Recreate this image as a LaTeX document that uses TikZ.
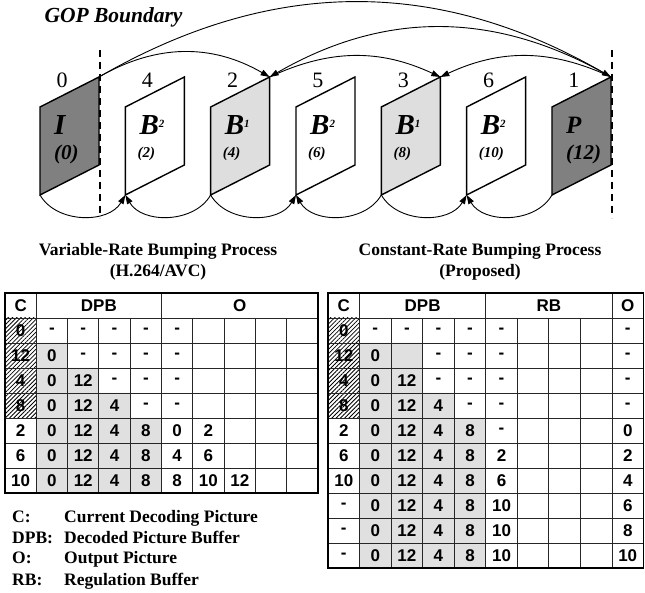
\documentclass[tikz,border=0pt]{standalone}
\usepackage{fontspec}
\setmainfont{Liberation Serif}
\setsansfont{Liberation Sans}
\usetikzlibrary{arrows.meta,patterns.meta,positioning}

\colorlet{ipfill}{black!50}
\colorlet{bfill}{black!13}
\colorlet{dpbfill}{black!12}
\newcommand{\lvl}[1]{\raisebox{7pt}{\fontsize{11}{11}\selectfont #1}}

\begin{document}
\begin{tikzpicture}[x=1pt, y=1pt,
  frame/.style={draw, line width=1.4pt},
  ref/.style={-{Triangle[length=9pt,width=6pt]}, line width=0.9pt},
  gop/.style={line width=2pt, dash pattern=on 7pt off 5pt},
  ord/.style={font=\fontsize{22}{22}\selectfont, inner sep=0pt},
  pic/.style={font=\bfseries\itshape\fontsize{29}{29}\selectfont, inner sep=0pt, anchor=west},
  pocS/.style={font=\bfseries\itshape\fontsize{15}{15}\selectfont, inner sep=0pt, anchor=west},
  pocL/.style={font=\bfseries\itshape\fontsize{21}{21}\selectfont, inner sep=0pt, anchor=west, xshift=2pt},
  grid/.style={line width=0.9pt, black!85},
  hatch/.style={pattern={Lines[angle=45, distance=3pt, line width=0.8pt]}},
  cell/.style={font=\sffamily\bfseries\fontsize{17}{17}\selectfont, inner sep=0pt},
  ttl/.style={font=\bfseries\fontsize{17.5}{21}\selectfont, align=center},
  key/.style={font=\bfseries\fontsize{17.5}{17.5}\selectfont, inner sep=0pt, anchor=base west}]
\useasboundingbox (0,0) rectangle (645,593);

% pictures of the GOP
\foreach \i/\fc/\ltr/\poc/\ps/\ord in {0/ipfill/I/0/pocL/0, 1/white/{B\lvl{2}}/2/pocS/4,
    2/bfill/{B\lvl{1}}/4/pocS/2, 3/white/{B\lvl{2}}/6/pocS/5, 4/bfill/{B\lvl{1}}/8/pocS/3,
    5/white/{B\lvl{2}}/10/pocS/6, 6/ipfill/{\fontsize{25}{25}\selectfont P}/12/pocL/1} {
  \pgfmathsetmacro\L{40+85.33*\i}
  \coordinate (f\i-bl) at (\L, 398);
  \coordinate (f\i-tr) at (\L+59, 516);
  \filldraw[frame, fill=\fc] (f\i-bl) -- ++(0,88) -- (f\i-tr) -- ++(0,-88) -- cycle;
  \node[pic] (p\i) at (\L+14, 468) {\ltr};
  \node[\ps] (n\i) at (\L+12, 439) {(\poc)};
  \node[ord] (o\i) at (\L+22, 513) {\ord};
}

% references
\draw[ref] (f0-tr) to[out=30, in=150] (f2-tr);
\draw[ref] (f0-tr) to[out=30, in=150] (f6-tr);
\draw[ref] (f6-tr) to[out=150, in=30] (f2-tr);
\draw[ref] (f2-tr) to[out=25, in=155] (f4-tr);
\draw[ref] (f6-tr) to[out=155, in=25] (f4-tr);
\foreach \a/\b in {0/1, 2/3, 4/5} \draw[ref] (f\a-bl) to[out=-60, in=-120] (f\b-bl);
\foreach \a/\b in {2/1, 4/3, 6/5} \draw[ref] (f\a-bl) to[out=-120, in=-60] (f\b-bl);

% GOP boundary
\draw[gop] ([shift={(1,27)}]f0-tr) -- ([shift={(1,-141)}]f0-tr);
\draw[gop] ([shift={(1,27)}]f6-tr) -- ([shift={(1,-141)}]f6-tr);
\node[anchor=west, font=\bfseries\itshape\fontsize{21.5}{21.5}\selectfont] (gop) at (41,576) {GOP Boundary};

\node[ttl] (ttl-var) at (158,331) {Variable-Rate Bumping Process\\(H.264/AVC)};
\node[ttl] (ttl-con) at (480,331) {Constant-Rate Bumping Process\\(Proposed)};

% H.264/AVC table
\begin{scope}[shift={(5pt,300pt)}, x=31.3pt, y=-25pt]
  \fill[dpbfill] (1,2) rectangle (2,3) (1,3) rectangle (3,4) (1,4) rectangle (4,5) (1,5) rectangle (5,8);
  \fill[hatch] (0,1) rectangle (1,5);
  \foreach \r in {1,...,7} \draw[grid] (0,\r) -- (10,\r);
  \foreach \c in {1,5} \draw[grid] (\c,0) -- (\c,8);
  \foreach \c in {2,3,4,6,7,8,9} \draw[grid] (\c,1) -- (\c,8);
  \draw[line width=1.6pt] (0,0) rectangle (10,8);
  \node[cell] (L-c) at (0.5,0.5) {C};
  \node[cell] (L-dpb) at (3,0.5) {DPB};
  \node[cell] (L-o) at (7.5,0.5) {O};
  \foreach \row [count=\r] in {{0,-,-,-,-,-}, {12,0,-,-,-,-}, {4,0,12,-,-,-}, {8,0,12,4,-,-},
      {2,0,12,4,8,0,2}, {6,0,12,4,8,4,6}, {10,0,12,4,8,8,10,12}}
    \foreach \v [count=\c] in \row
      \node[cell] (L-\r-\c) at (\c-0.5, \r+0.5) {\v};
\end{scope}

% proposed table
\begin{scope}[shift={(328pt,300pt)}, x=31.55pt, y=-25pt]
  \fill[dpbfill] (1,2) rectangle (3,4) (1,4) rectangle (4,5) (1,5) rectangle (5,11);
  \fill[hatch] (0,1) rectangle (1,5);
  \foreach \r in {1,...,10} \draw[grid] (0,\r) -- (10,\r);
  \foreach \c in {1,5,9} \draw[grid] (\c,0) -- (\c,11);
  \foreach \c in {2,3,4,6,7,8} \draw[grid] (\c,1) -- (\c,11);
  \draw[line width=1.6pt] (0,0) rectangle (10,11);
  \node[cell] (R-c) at (0.5,0.5) {C};
  \node[cell] (R-dpb) at (3,0.5) {DPB};
  \node[cell] (R-rb) at (7,0.5) {RB};
  \node[cell] (R-o) at (9.5,0.5) {O};
  \foreach \row [count=\r] in {{0,-,-,-,-,-,,,,-}, {12,0,,-,-,-,,,,-}, {4,0,12,-,-,-,,,,-},
      {8,0,12,4,-,-,,,,-}, {2,0,12,4,8,-,,,,0}, {6,0,12,4,8,2,,,,2}, {10,0,12,4,8,6,,,,4},
      {-,0,12,4,8,10,,,,6}, {-,0,12,4,8,10,,,,8}, {-,0,12,4,8,10,,,,10}}
    \foreach \v [count=\c] in \row
      \node[cell] (R-\r-\c) at (\c-0.5, \r+0.5) {\v};
\end{scope}

% legend
\foreach \k/\d/\y [count=\n] in {C:/Current Decoding Picture/70, DPB:/Decoded Picture Buffer/49,
    O:/Output Picture/29, RB:/Regulation Buffer/7} {
  \node[key] (key\n) at (12,\y) {\k};
  \node[key] (desc\n) at (64,\y) {\d};
}
\end{tikzpicture}
\end{document}
